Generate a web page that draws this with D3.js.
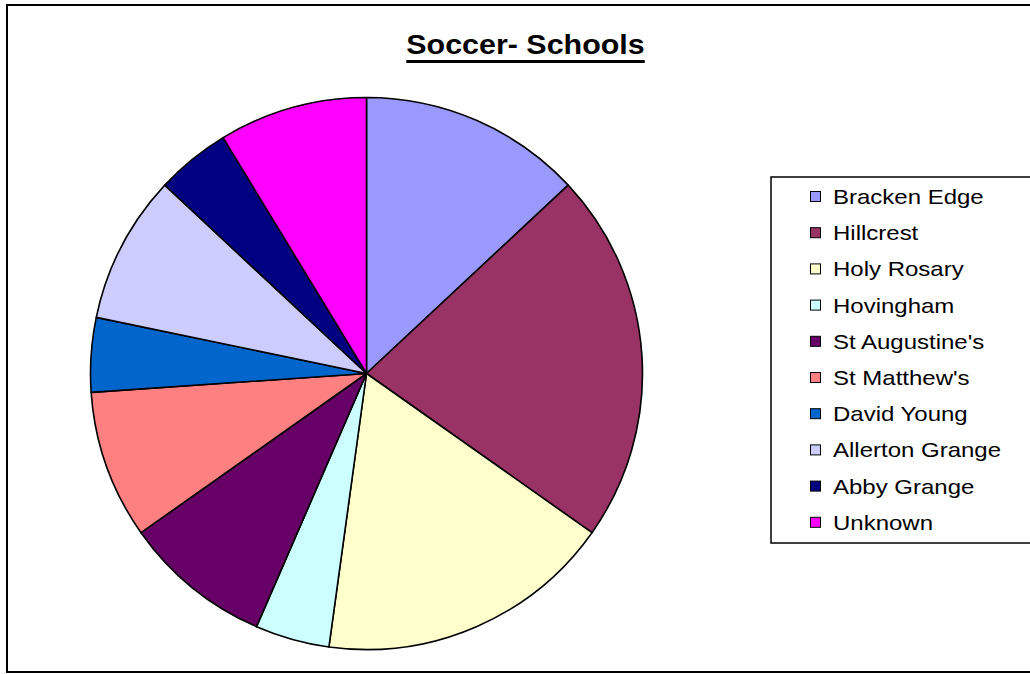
<!DOCTYPE html>
<html>
<head>
<meta charset="utf-8">
<script src="https://cdn.jsdelivr.net/npm/d3@7"></script>
<style>
  body { margin: 0; background: #fff; }
  text { font-family: "Liberation Sans", Arial, sans-serif; }
</style>
</head>
<body>
<div id="chart"></div>
<script>
// Chart data
const schools = [
  "Bracken Edge", "Hillcrest", "Holy Rosary", "Hovingham", "St Augustine's",
  "St Matthew's", "David Young", "Allerton Grange", "Abby Grange", "Unknown",
];
const players = [3, 5, 4, 1, 2, 2, 1, 2, 1, 2];
const colours = [
  "#9999FF", "#993366", "#FFFFCC", "#CCFFFF", "#660066",
  "#FF8080", "#0066CC", "#CCCCFF", "#000080", "#FF00FF",
];

const width = 1030;
const height = 674;
const cx = 366.5, cy = 373.5, radius = 276;

const svg = d3.select("#chart").append("svg")
  .attr("width", width)
  .attr("height", height);

// chart area border
svg.append("rect")
  .attr("x", 7).attr("y", 5)
  .attr("width", 1040).attr("height", 667)
  .attr("fill", "none")
  .attr("stroke", "#000")
  .attr("stroke-width", 2);

// title (underlined)
const title = svg.append("text")
  .attr("transform", "translate(525.5,54) scale(1.087,1)")
  .attr("text-anchor", "middle")
  .attr("font-size", "28px")
  .attr("font-weight", "bold")
  .text("Soccer- Schools");
const tw = title.node().getBBox().width * 1.087;
svg.append("rect")
  .attr("x", 525.5 - tw / 2).attr("y", 60)
  .attr("width", tw).attr("height", 3)
  .attr("fill", "#000");

const pie = d3.pie().sort(null).value((d) => d);
const arc = d3.arc().innerRadius(0).outerRadius(radius);

svg.append("g")
  .attr("transform", `translate(${cx},${cy})`)
  .selectAll("path")
  .data(pie(players))
  .join("path")
  .attr("d", arc)
  .attr("fill", (d, i) => colours[i])
  .attr("stroke", "#000")
  .attr("stroke-width", 1.6)
  .attr("stroke-linejoin", "round");

// legend
const legend = svg.append("g");
legend.append("rect")
  .attr("x", 771).attr("y", 177)
  .attr("width", 300).attr("height", 366)
  .attr("fill", "#fff")
  .attr("stroke", "#000")
  .attr("stroke-width", 1.5);

schools.forEach((name, i) => {
  const base = 204 + i * 36.2;
  legend.append("rect")
    .attr("x", 810.5).attr("y", base - 12.5)
    .attr("width", 10).attr("height", 10)
    .attr("fill", colours[i])
    .attr("stroke", "#000")
    .attr("stroke-width", 1);
  legend.append("text")
    .attr("transform", `translate(833,${base}) scale(1.2,1)`)
    .attr("font-size", "20px")
    .text(name);
});
</script>
</body>
</html>
